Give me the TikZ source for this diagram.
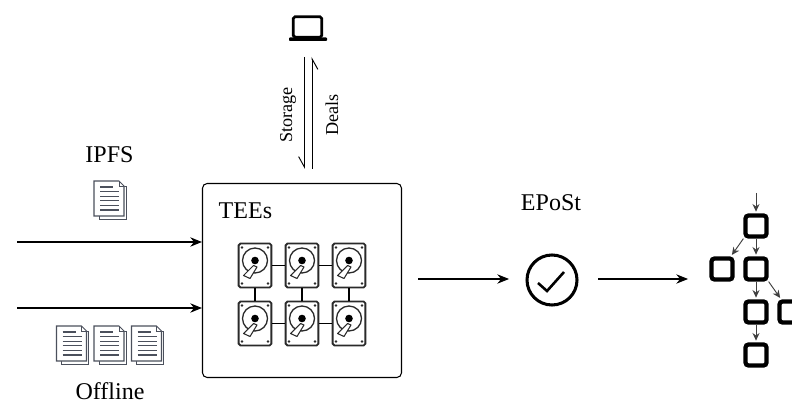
\documentclass[tikz,border=0pt]{standalone}
\usepackage{fontspec}
\setmainfont{Liberation Serif}
\usetikzlibrary{arrows.meta}
\definecolor{docgray}{HTML}{4B505C}
\definecolor{hddgray}{HTML}{2A2A2A}

\tikzset{
	label/.style={font=\fontsize{20.5}{24}\selectfont,inner sep=0pt},
	small label/.style={font=\fontsize{15.5}{18}\selectfont,inner sep=0pt,rotate=90},
	flow/.style={-{Stealth[length=10pt,width=8pt]},line width=0.9pt},
	block/.style={draw=black,line width=3.6pt,rounded corners=2.5pt,minimum size=0.63cm,inner sep=0pt},
	link/.style={-{Stealth[length=6.5pt,width=6pt]},line width=0.8pt,draw=black!75,shorten >=1.5pt},
	hdd/.pic={
		\node[draw=hddgray,line width=1.6pt,rounded corners=1.5pt,minimum width=0.98cm,minimum height=1.32cm,inner sep=0pt] (-box) at (0,0) {};
		\fill[hddgray] (-13,-18) circle (1.4) (13,-18) circle (1.4) (-13,18) circle (1.4) (13,18) circle (1.4);
		\draw[hddgray,line width=1.1pt] (0,-5) circle (12.5);
		\fill[black] (0,-5) circle (3.8);
		\draw[hddgray,fill=white,line width=0.9pt,line join=round] (-1.5,0) -- (2,1.5) -- (-5,13) -- (-11.5,10) -- cycle;
	},
	doc/.pic={
		\draw[docgray,line width=0.8pt,fill=white] (-11,-14) -- (16,-14) -- (16,19) -- (-11,19) -- cycle;
		\draw[docgray,line width=0.9pt,fill=white] (-16,-19) -- (9,-19) -- (14,-14) -- (14,16) -- (-16,16) -- cycle;
		\draw[docgray,line width=0.7pt] (9,-19) -- (9,-14) -- (14,-14);
		\draw[docgray,line width=1pt] (-10,-13) -- (3,-13) (-10,-8.4) -- (9,-8.4) (-10,-3.8) -- (9,-3.8) (-10,0.8) -- (9,0.8) (-10,5.4) -- (9,5.4) (-10,10) -- (9,10);
	},
}

\begin{document}
\begin{tikzpicture}[x=0.03cm,y=-0.03cm]
	\useasboundingbox (0,0) rectangle (792,404);

	% sources
	\node[label] (ipfs) at (109.5,155) {IPFS};
	\pic at (110,200) {doc};
	\pic at (72.5,345) {doc};
	\pic at (110,345) {doc};
	\pic at (147.5,345) {doc};
	\node[label] (offline) at (110,391.5) {Offline};
	\coordinate (inA) at (17,242);
	\coordinate (inB) at (17,308);

	% TEE box
	\node[draw=black,line width=0.9pt,rounded corners=4pt,minimum width=5.97cm,minimum height=5.82cm,inner sep=0pt] (tee) at (302,280.5) {};
	\node[label,anchor=west] (teelabel) at (218.5,211) {TEEs};
	\draw[flow] (inA) -- (inA -| tee.west);
	\draw[flow] (inB) -- (inB -| tee.west);

	\pic (hddA) at (255,265.5) {hdd};
	\pic (hddB) at (302,265.5) {hdd};
	\pic (hddC) at (349,265.5) {hdd};
	\pic (hddD) at (255,323.5) {hdd};
	\pic (hddE) at (302,323.5) {hdd};
	\pic (hddF) at (349,323.5) {hdd};
	\draw[line width=0.9pt] (hddA-box) -- (hddB-box);
	\draw[line width=0.9pt] (hddB-box) -- (hddC-box);
	\draw[line width=0.9pt] (hddD-box) -- (hddE-box);
	\draw[line width=0.9pt] (hddE-box) -- (hddF-box);
	\draw[line width=0.9pt] (hddA-box) -- (hddD-box);
	\draw[line width=0.9pt] (hddB-box) -- (hddE-box);
	\draw[line width=0.9pt] (hddC-box) -- (hddF-box);

	% laptop
	\node[draw=black,line width=2.4pt,rounded corners=1.5pt,minimum width=0.85cm,minimum height=0.62cm,inner sep=0pt] (laptop) at (307.5,27) {};
	\fill[black,rounded corners=0.8pt] (289,37.5) rectangle (327,41);
	\coordinate (storeA) at (304.5,57);
	\coordinate (storeB) at (304.5,169);
	\coordinate (dealA) at (312,169);
	\coordinate (dealB) at (312,57);
	\draw[-{Straight Barb[harpoon,swap,length=9pt,width=10pt]},line width=0.8pt] (storeA) -- (storeB);
	\draw[-{Straight Barb[harpoon,swap,length=9pt,width=10pt]},line width=0.8pt] (dealA) -- (dealB);
	\node[small label] (storage) at (288,115) {Storage};
	\node[small label] (deals) at (332,115) {Deals};

	% proof
	\node[label] (epost) at (551,203) {EPoSt};
	\node[circle,draw=black,line width=2.6pt,minimum size=1.5cm,inner sep=0pt] (check) at (552,280) {};
	\draw[line width=2.2pt,line join=miter] (538,283) -- (547,291) -- (564,272);
	\coordinate (teeout) at (418,279);
	\coordinate (chain) at (688,279);
	\draw[flow] (teeout) -- (509,279);
	\draw[flow] (598,279) -- (chain);

	% chain
	\node[block] (root) at (756,226) {};
	\node[block] (left) at (722,269) {};
	\node[block] (mid) at (756,269) {};
	\node[block] (next) at (756,312) {};
	\node[block] (side) at (790,312) {};
	\node[block] (last) at (756,355) {};
	\coordinate (top) at (756,193);
	\draw[link] (top) -- (root);
	\draw[link] (root.south west) -- (left);
	\draw[link] (root) -- (mid);
	\draw[link] (mid) -- (next);
	\draw[link] (mid.south east) -- (side);
	\draw[link] (next) -- (last);
\end{tikzpicture}
\end{document}
